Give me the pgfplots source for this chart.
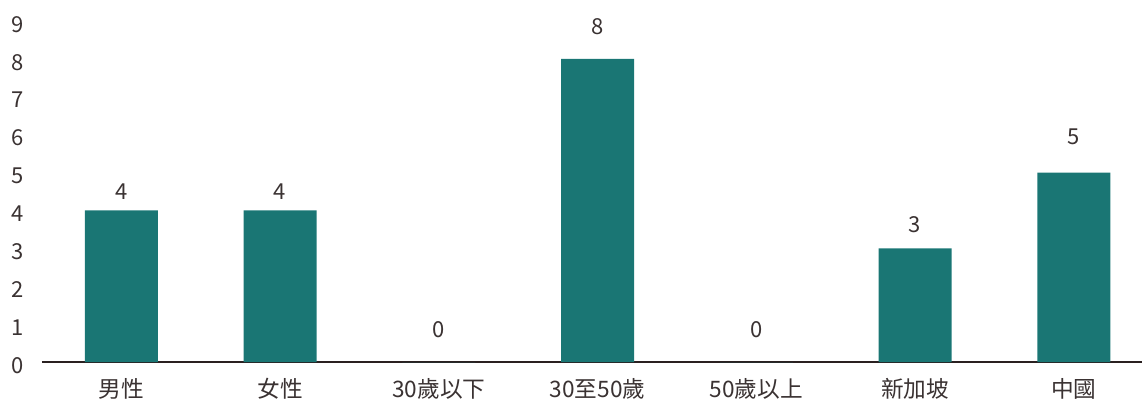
\documentclass[border=0pt]{standalone}
\usepackage{fontspec}
\setmainfont{Noto Sans CJK TC}
\usepackage{pgfplots}
\usepackage{pgfplotstable}
\pgfplotsset{compat=1.18}
\definecolor{barteal}{HTML}{1A7674}
\definecolor{txt}{HTML}{3A3232}
\definecolor{baseln}{HTML}{2A2020}
\pgfplotstableread{
x y off
0 4 19
1 4 19
2 0 32
3 8 32
4 0 32
5 3 24
6 5 36
}\datatab
\begin{document}
\begin{tikzpicture}
\begin{axis}[
  name=ax,
  scale only axis,
  width=825pt, height=255.75pt,
  xmin=-0.5, xmax=6.43,
  ymin=0, ymax=9,
  ytick={0,1,...,9},
  xtick={0,...,6},
  xticklabels={男性,女性,30歲以下,30至50歲,50歲以上,新加坡,中國},
  axis y line*=left,
  y axis line style={draw=none},
  axis x line*=bottom,
  x axis line style={-, draw=baseln, line width=0.9pt},
  major tick length=0pt,
  tick style={draw=none},
  ticklabel style={font=\fontsize{16.5}{19}\selectfont, text=txt},
  /pgf/number format/assume math mode=true,
  yticklabel style={anchor=center, xshift=-18pt, yshift=-2.5pt},
  xticklabel style={anchor=center, yshift=-20pt, font=\fontsize{17}{19}\selectfont},
  clip=false,
]
\addplot[ybar, bar width=0.46, fill=barteal, draw=none,
  visualization depends on={\thisrow{off} \as \myoff},
  nodes near coords,
  every node near coord/.append style={anchor=center, yshift=\myoff*0.75pt, font=\fontsize{16.5}{19}\selectfont, text=txt},
  point meta=explicit symbolic]
  table[x=x, y=y, meta=y] {\datatab};
\end{axis}
\pgfresetboundingbox
\path (ax.south west) ++(-31.5pt,-36.75pt) coordinate (bl);
\path (ax.north east) ++(0pt,15.75pt) coordinate (tr);
\useasboundingbox (bl) rectangle (tr);
\end{tikzpicture}
\end{document}
